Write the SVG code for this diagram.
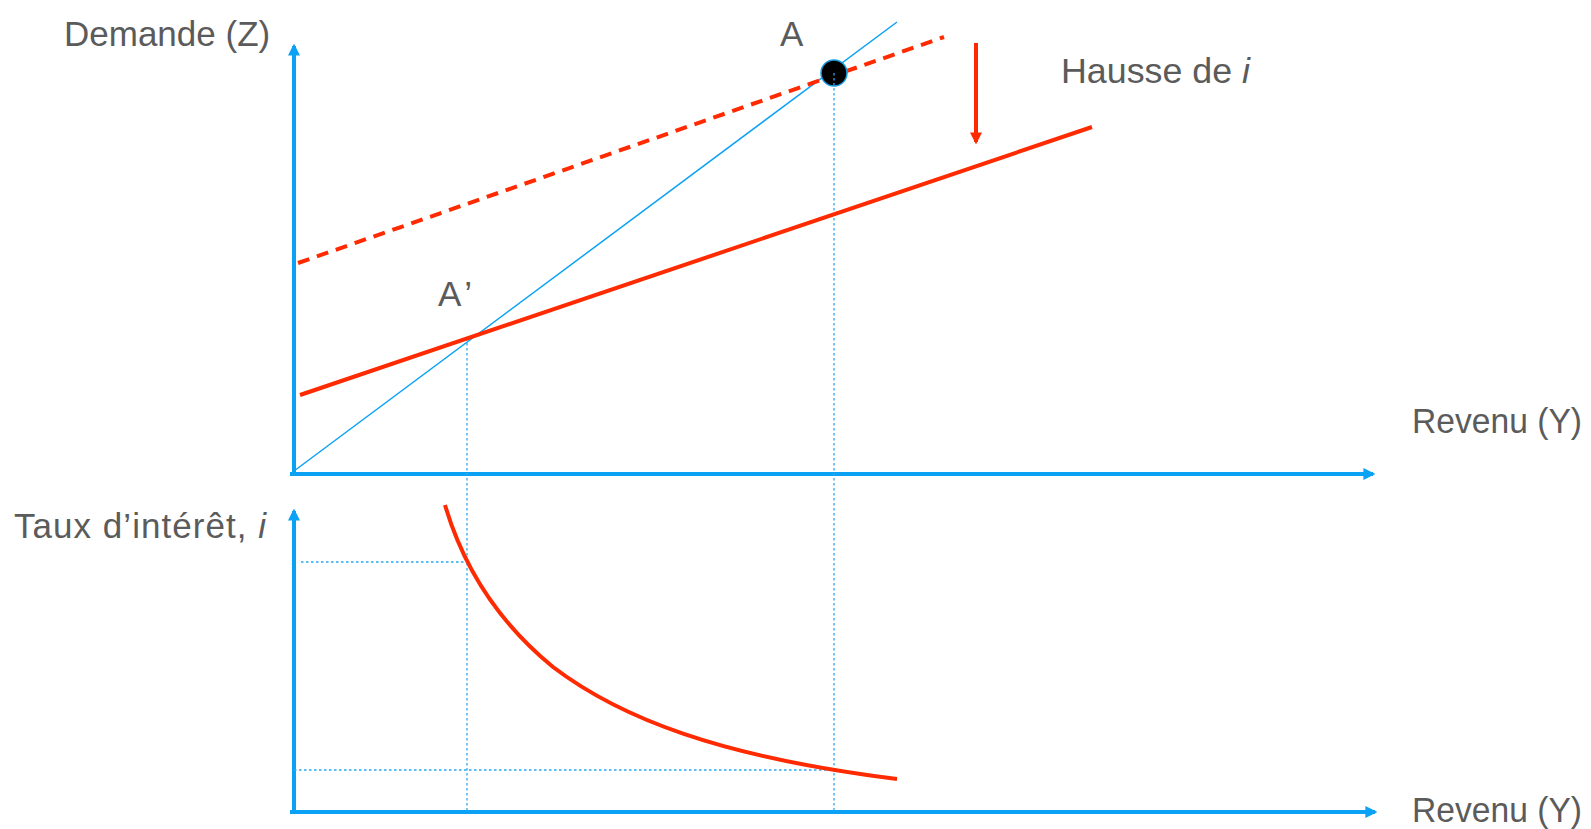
<svg xmlns="http://www.w3.org/2000/svg" width="1591" height="829" viewBox="0 0 1591 829">
<style>
.lbl{font-family:"Liberation Sans",Arial,sans-serif;font-size:35px;fill:#5b5b5b}
.axis{stroke:#0ba2f5;stroke-width:4;fill:none}
.dot{stroke:#2aa8f2;stroke-width:1.3;stroke-dasharray:2.5 2.5;fill:none}
.red{stroke:#ff2a00;stroke-width:4;fill:none}
</style>
<defs>
<marker id="ab" viewBox="0 0 10 10" refX="8" refY="5" markerWidth="3" markerHeight="3" orient="auto" markerUnits="strokeWidth"><path d="M0,0 L10,5 L0,10 z" fill="#0ba2f5"/></marker>
<marker id="ar" viewBox="0 0 10 10" refX="8" refY="5" markerWidth="3.5" markerHeight="3" orient="auto" markerUnits="strokeWidth"><path d="M0,0 L10,5 L0,10 z" fill="#ff2a00"/></marker>
</defs>
<rect width="1591" height="829" fill="#fff"/>
<g id="connectors">
<line class="axis" x1="294" y1="476" x2="294" y2="46" marker-end="url(#ab)"/>
<line class="axis" x1="290" y1="474" x2="1373" y2="474" marker-end="url(#ab)"/>
<line class="axis" x1="294" y1="814" x2="294" y2="511" marker-end="url(#ab)"/>
<line class="axis" x1="290" y1="812" x2="1375" y2="812" marker-end="url(#ab)"/>
<line x1="294" y1="471" x2="897" y2="22" stroke="#0ba2f5" stroke-width="1.5"/>
<line class="dot" x1="834" y1="73" x2="834" y2="812"/>
<line class="dot" x1="467" y1="338" x2="467" y2="812"/>
<line class="dot" x1="301" y1="562" x2="467" y2="562"/>
<line class="dot" x1="294" y1="770" x2="834" y2="770"/>
<line class="red" x1="298" y1="263" x2="944" y2="37" stroke-dasharray="12 8"/>
<line class="red" x1="300" y1="395" x2="1092" y2="127"/>
<line class="red" x1="976" y1="43" x2="976" y2="142" stroke-width="3" marker-end="url(#ar)"/>
<path class="red" d="M445,505 C470,590 520,640 553,667 C620,718 720,757 897,779"/>
</g>
<g id="pointA"><circle cx="834" cy="73" r="13" fill="#000" stroke="#1a9be0" stroke-width="1.5"/><line class="dot" x1="834" y1="73" x2="834" y2="86" stroke="#4ab"/></g>
<g id="labels">
<text id="demande" class="lbl" x="64" y="46">Demande (Z)</text>
<text id="revenu1" class="lbl" x="1412" y="433" textLength="170" lengthAdjust="spacingAndGlyphs">Revenu (Y)</text>
<text id="revenu2" class="lbl" x="1412" y="822" textLength="170" lengthAdjust="spacingAndGlyphs">Revenu (Y)</text>
<text id="hausse" class="lbl" x="1061" y="83" textLength="189" lengthAdjust="spacingAndGlyphs">Hausse de <tspan font-style="italic">i</tspan></text>
<text id="taux" class="lbl" x="14" y="538" textLength="252" lengthAdjust="spacing">Taux d’intérêt, <tspan font-style="italic">i</tspan></text>
<text id="lblA" class="lbl" x="780" y="46">A</text>
<text id="lblA2" class="lbl" x="438" y="306" textLength="34" lengthAdjust="spacing">A’</text>
</g>
</svg>
